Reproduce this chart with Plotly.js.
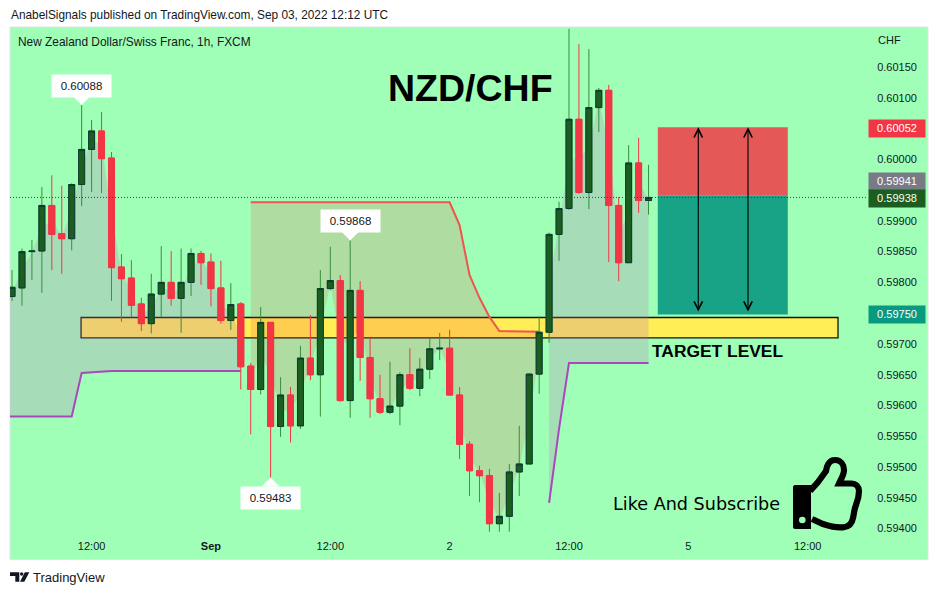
<!DOCTYPE html>
<html>
<head>
<meta charset="utf-8">
<script src="https://cdn.plot.ly/plotly-3.0.1.min.js"></script>
<style>html,body{margin:0;padding:0;background:#fff}#chart{width:938px;height:595px}</style>
</head>
<body>
<div id="chart"></div>
<script>
// ---- candles, one per hour, index 0 = Aug 31 04:00 ----
const open_ = [.59777,.59791,.59850,.59851,.59925,.59879,.59871,.59959,.60016,.60046,.60002,.59825,.59807,.59765,.59733,.59781,.59800,.59774,.59800,.59847,.59833,.59791,.59738,.59765,.59664,.59626,.59735,.59566,.59617,.59567,.59677,.59650,.59790,.59803,.59608,.59787,.59678,.59611,.59589,.59599,.59650,.59628,.59659,.59692,.59693,.59617,.59537,.59494,.59486,.59408,.59420,.59492,.59505,.59651,.59719,.59878,.59920,.60065,.59946,.60084,.60112,.59925,.59832,.59994,.59933];
const close_ = [.59792,.59850,.59851,.59925,.59878,.59871,.59959,.60016,.60046,.60001,.59824,.59806,.59763,.59733,.59781,.59800,.59774,.59800,.59847,.59832,.59790,.59738,.59764,.59663,.59626,.59735,.59566,.59617,.59567,.59677,.59650,.59790,.59803,.59608,.59787,.59678,.59611,.59589,.59599,.59650,.59628,.59659,.59692,.59693,.59617,.59537,.59494,.59486,.59408,.59420,.59492,.59505,.59651,.59719,.59878,.59920,.60065,.59946,.60084,.60112,.59925,.59832,.59994,.59933,.59938];
const high_ = [.59820,.59855,.59869,.59955,.59974,.59957,.59961,.60088,.60064,.60077,.60012,.59846,.59836,.59775,.59814,.59859,.59851,.59855,.59855,.59851,.59847,.59835,.59799,.59768,.59669,.59760,.59735,.59646,.59630,.59697,.59747,.59820,.59858,.59812,.59868,.59802,.59710,.59650,.59671,.59654,.59693,.59677,.59710,.59718,.59723,.59630,.59542,.59502,.59497,.59458,.59505,.59567,.59652,.59745,.59881,.59931,.60212,.60187,.60179,.60116,.60121,.59939,.60023,.60035,.59991];
const low_ = [.59770,.59762,.59804,.59783,.59820,.59814,.59852,.59924,.59947,.59945,.59770,.59736,.59743,.59721,.59717,.59744,.59762,.59718,.59778,.59796,.59761,.59733,.59723,.59626,.59553,.59618,.59483,.59549,.59540,.59562,.59641,.59582,.59787,.59606,.59580,.59640,.59580,.59586,.59586,.59568,.59625,.59615,.59643,.59674,.59617,.59513,.59453,.59443,.59395,.59395,.59395,.59453,.59505,.59619,.59702,.59835,.59918,.59944,.59919,.60044,.59833,.59802,.59832,.59913,.59910];
const barIndex = open_.map((_, i) => i);

// ---- overlay band boundaries ----
const bandAIdx = [-1,0,1,2,3,4,5,6,7,8,9,10,11,12,13,14,15,16,17,18,19,20,21,22,23];
const bandALower = [.59582,.59582,.59582,.59582,.59582,.59582,.59582,.59582,.59653,.59654,.59656,.59656,.59656,.59656,.59656,.59656,.59656,.59656,.59656,.59656,.59656,.59656,.59656,.59656,.59656];
const bandAMid = [.59775,.59785,.59820,.59850,.59888,.59902,.59875,.59915,.59988,.60031,.60024,.59913,.59816,.59785,.59749,.59757,.59791,.59787,.59787,.59824,.59840,.59812,.59765,.59751,.59714];
const bandBIdx = [24,25,26,27,28,29,30,31,32,33,34,35,36,37,38,39,40,41,42,43,44,45,46,47,48,49,50,51,52,53];
const bandBUpper = [.59930,.59930,.59930,.59930,.59930,.59930,.59930,.59930,.59930,.59930,.59930,.59930,.59930,.59930,.59930,.59930,.59930,.59930,.59930,.59930,.59930,.59893,.59812,.59775,.59744,.59721,.59721,.59721,.59721,.59720];
const bandBMid = [.59645,.59681,.59651,.59592,.59592,.59622,.59664,.59720,.59797,.59706,.59698,.59733,.59645,.59600,.59594,.59625,.59639,.59644,.59676,.59693,.59655,.59577,.59516,.59490,.59447,.59414,.59456,.59499,.59578,.59685];
const bandCIdx = [54,55,56,57,58,59,60,61,62,63,64];
const bandCLower = [.59442,.59562,.59669,.59669,.59669,.59669,.59669,.59669,.59669,.59669,.59669];
const bandCMid = [.59799,.59899,.59993,.60006,.60015,.60098,.60019,.59879,.59913,.59963,.59936];

// ---- axis ticks ----
const xTickVals = [8,20,32,44,56,68,80];
const xTickText = ['12:00','<b>Sep</b>','12:00','2','12:00','5','12:00'];
const yTickVals = [.6015,.601,.6,.599,.5985,.598,.597,.5965,.596,.5955,.595,.5945,.594];
const yTickText = ['0.60150','0.60100','0.60000','0.59900','0.59850','0.59800','0.59700','0.59650','0.59600','0.59550','0.59500','0.59450','0.59400'];

// ---- trade / level values ----
const lastPrice = 0.59938;
const stopPrice = 0.60052, entryPrice = 0.59941, targetPrice = 0.59750, targetBoxBottom = 0.59748;
const tradeBoxX = [64.93, 78];
const tradeArrowX = [69, 74];
const levelBox = {x: [6.94, 83.05], y: [.59710, .59743]};
const priceBadges = [['0.60052', .60052, '#f23645', -1], ['0.59941', .59941, '#787b86', 14.5], ['0.59938', .59938, '#1b5e20', -1], ['0.59750', .59750, '#089981', -1]];
const callouts = [[7, .60088, '0.60088', -19], [34, .59868, '0.59868', -20], [26, .59483, '0.59483', 20]];

const BG = '#a0ffb6', INK = '#131722';
const FONT = '"Liberation Sans", Arial, sans-serif';

// helpers: page pixels -> paper fractions for the page decoration
const L = 10, R = 868, T = 27, B = 532;
const pxX = x => (x - L) / (R - L), pxY = y => (B - y) / (B - T);
function pathPx(d) {
  return d.replace(/(-?[\d.]+),(-?[\d.]+)/g, (m, a, b) => pxX(+a).toFixed(5) + ',' + pxY(+b).toFixed(5));
}
const page = (o) => Object.assign({xref: 'paper', yref: 'paper', line: {width: 0}}, o);

const shapes = [
  page({type: 'rect', x0: pxX(10), x1: pxX(928), y0: pxY(27), y1: pxY(559.5), fillcolor: BG, line: {color: '#e0e3eb', width: 1}, layer: 'below'}),
  {type: 'rect', xref: 'x', yref: 'y', x0: levelBox.x[0], x1: levelBox.x[1], y0: levelBox.y[0], y1: levelBox.y[1], fillcolor: '#ffee55', line: {color: '#131313', width: 1.3}, layer: 'below'},
  {type: 'rect', xref: 'x', yref: 'y', x0: tradeBoxX[0], x1: tradeBoxX[1], y0: entryPrice, y1: stopPrice, fillcolor: '#e55858', line: {width: 0}},
  {type: 'rect', xref: 'x', yref: 'y', x0: tradeBoxX[0], x1: tradeBoxX[1], y0: targetBoxBottom, y1: entryPrice, fillcolor: '#18a286', line: {width: 0}},
  {type: 'line', xref: 'paper', yref: 'y', x0: 0, x1: 1, y0: lastPrice, y1: lastPrice, line: {color: '#1b5e20', width: 1, dash: '1px,2px'}},
  // thumb-up icon
  page({type: 'path', path: pathPx('M810,491 L818,482 L826,471 C827,465 829,460 835,460 C841,460 844,465 844,470 C844,475 841,479 839,483.5 L851,483.5 C856,483.5 859,487 859,491 C859,495 858,500 856,505 C854,510 854,514 853,518 C852,524 848,527 843,527.3 C836,528 829,526 823,524 L812,519').replace(/([A-Z])/g, '$1 '), fillcolor: 'rgba(0,0,0,0)', line: {color: '#000', width: 6.2}}),
  page({type: 'path', path: pathPx('M795,485 L811,485 L811,529 L795,529 C794,529 793,528 793,527 L793,487 C793,486 794,485 795,485 Z'), fillcolor: '#000'}),
  page({type: 'circle', x0: pxX(799), x1: pxX(805.6), y0: pxY(516.7), y1: pxY(523.3), fillcolor: BG}),
  // TradingView logo
  page({type: 'path', path: pathPx('M10,572.3 L19.3,572.3 L19.3,581.7 L15.3,581.7 L15.3,576 L10,576 Z'), fillcolor: '#131722'}),
  page({type: 'circle', x0: pxX(20), x1: pxX(23.4), y0: pxY(572.3), y1: pxY(575.7), fillcolor: '#131722'}),
  page({type: 'path', path: pathPx('M24.8,572.3 L29.3,572.3 L24.3,581.7 L20,581.7 Z'), fillcolor: '#131722'})
];

const pageText = (text, x, y, size, extra) => Object.assign({xref: 'paper', yref: 'paper', x: pxX(x), y: pxY(y), xanchor: 'left', yanchor: 'middle', showarrow: false, text, font: {family: FONT, size, color: INK}}, extra || {});

const annotations = [
  pageText('AnabelSignals published on TradingView.com, Sep 03, 2022 12:12 UTC', 9, 15, 11.85),
  pageText('New Zealand Dollar/Swiss Franc, 1h, FXCM', 16, 42, 11.9),
  pageText('<b>NZD/CHF</b>', 386, 88, 37.5, {font: {family: FONT, size: 37.5, color: '#000'}}),
  pageText('<b>TARGET LEVEL</b>', 650, 351, 17.4, {font: {family: FONT, size: 17.4, color: '#000'}}),
  pageText('Like And Subscribe', 610.5, 504, 17.6, {font: {family: '"DejaVu Sans", sans-serif', size: 17.6, color: '#000'}}),
  pageText('CHF', 876, 40, 11),
  pageText('TradingView', 31, 577, 13)
];
tradeArrowX.forEach(x => annotations.push({xref: 'x', yref: 'y', axref: 'x', ayref: 'y', x, ax: x, y: stopPrice, ay: targetPrice + 0.00001, text: ' ', font: {size: 1}, borderpad: 0, showarrow: true, arrowhead: 5, startarrowhead: 5, arrowside: 'end+start', arrowwidth: 1.1, arrowsize: 1.5, startarrowsize: 1.5, arrowcolor: '#000'}));
priceBadges.forEach(([t, y, c, shift]) => annotations.push({xref: 'paper', yref: 'y', x: 1, y, yshift: shift, xanchor: 'left', yanchor: 'middle', text: t, showarrow: false, bgcolor: c, width: 56, height: 16.5, borderpad: 0, font: {family: FONT, size: 11, color: '#fff'}}));
callouts.forEach(([x, y, t, dy]) => annotations.push({xref: 'x', yref: 'y', x, y, text: t, ax: 0, ay: dy, showarrow: true, arrowhead: 1, arrowsize: 3, arrowwidth: 1, arrowcolor: '#fff', bgcolor: '#fff', width: 59, height: 22, borderpad: 0, font: {family: FONT, size: 11.5, color: INK}}));

const noHover = {hoverinfo: 'skip', showlegend: false};
const traces = [
  // band A (purple base)
  Object.assign({x: bandAIdx, y: bandALower, type: 'scatter', mode: 'lines', line: {color: '#ab47bc', width: 2}}, noHover),
  Object.assign({x: bandAIdx, y: bandAMid, type: 'scatter', mode: 'lines', line: {width: 0}, fill: 'tonexty', fillcolor: 'rgba(184,116,190,0.25)'}, noHover),
  // band B (red ceiling)
  Object.assign({x: bandBIdx, y: bandBUpper, type: 'scatter', mode: 'lines', line: {color: '#f05350', width: 2}}, noHover),
  Object.assign({x: bandBIdx, y: bandBMid, type: 'scatter', mode: 'lines', line: {width: 0}, fill: 'tonexty', fillcolor: 'rgba(245,60,60,0.18)'}, noHover),
  // band C (purple base)
  Object.assign({x: bandCIdx, y: bandCLower, type: 'scatter', mode: 'lines', line: {color: '#ab47bc', width: 2}}, noHover),
  Object.assign({x: bandCIdx, y: bandCMid, type: 'scatter', mode: 'lines', line: {width: 0}, fill: 'tonexty', fillcolor: 'rgba(184,116,190,0.25)'}, noHover),
  // wicks and bodies
  Object.assign({x: barIndex, open: open_, high: high_, low: low_, close: close_, type: 'candlestick', zorder: 2, whiskerwidth: 0,
    increasing: {line: {color: '#388e3c', width: 1}, fillcolor: '#1b5e20'},
    decreasing: {line: {color: '#f23645', width: 1}, fillcolor: '#f23645'}}, noHover),
  // body borders
  Object.assign({x: barIndex, open: open_, high: open_.map((o, i) => Math.max(o, close_[i])), low: open_.map((o, i) => Math.min(o, close_[i])), close: close_, type: 'candlestick', zorder: 3, whiskerwidth: 0,
    increasing: {line: {color: '#0d3b33', width: 1}, fillcolor: '#1b5e20'},
    decreasing: {line: {color: '#f23645', width: 1}, fillcolor: '#f23645'}}, noHover)
];

const layout = {
  width: 938, height: 595,
  margin: {l: L, r: 938 - R, t: T, b: 595 - B, pad: 0},
  paper_bgcolor: '#fff', plot_bgcolor: 'rgba(0,0,0,0)',
  showlegend: false, hovermode: false, dragmode: false,
  boxgap: 0.4, boxgroupgap: 0,
  xaxis: {type: 'linear', range: [-0.205, 86.065], tickmode: 'array', tickvals: xTickVals, ticktext: xTickText,
    showgrid: false, zeroline: false, showline: false, ticks: 'outside', ticklen: 4, tickcolor: 'rgba(0,0,0,0)',
    tickfont: {family: FONT, size: 11, color: INK}, rangeslider: {visible: false}, fixedrange: true},
  yaxis: {side: 'right', range: [.593945, .602149], tickmode: 'array', tickvals: yTickVals, ticktext: yTickText,
    showgrid: false, zeroline: false, showline: false, ticks: 'outside', ticklen: 6, tickcolor: 'rgba(0,0,0,0)',
    tickfont: {family: FONT, size: 11, color: INK}, fixedrange: true},
  shapes, annotations
};
Plotly.newPlot('chart', traces, layout, {displayModeBar: false, staticPlot: true});
</script>
</body>
</html>
